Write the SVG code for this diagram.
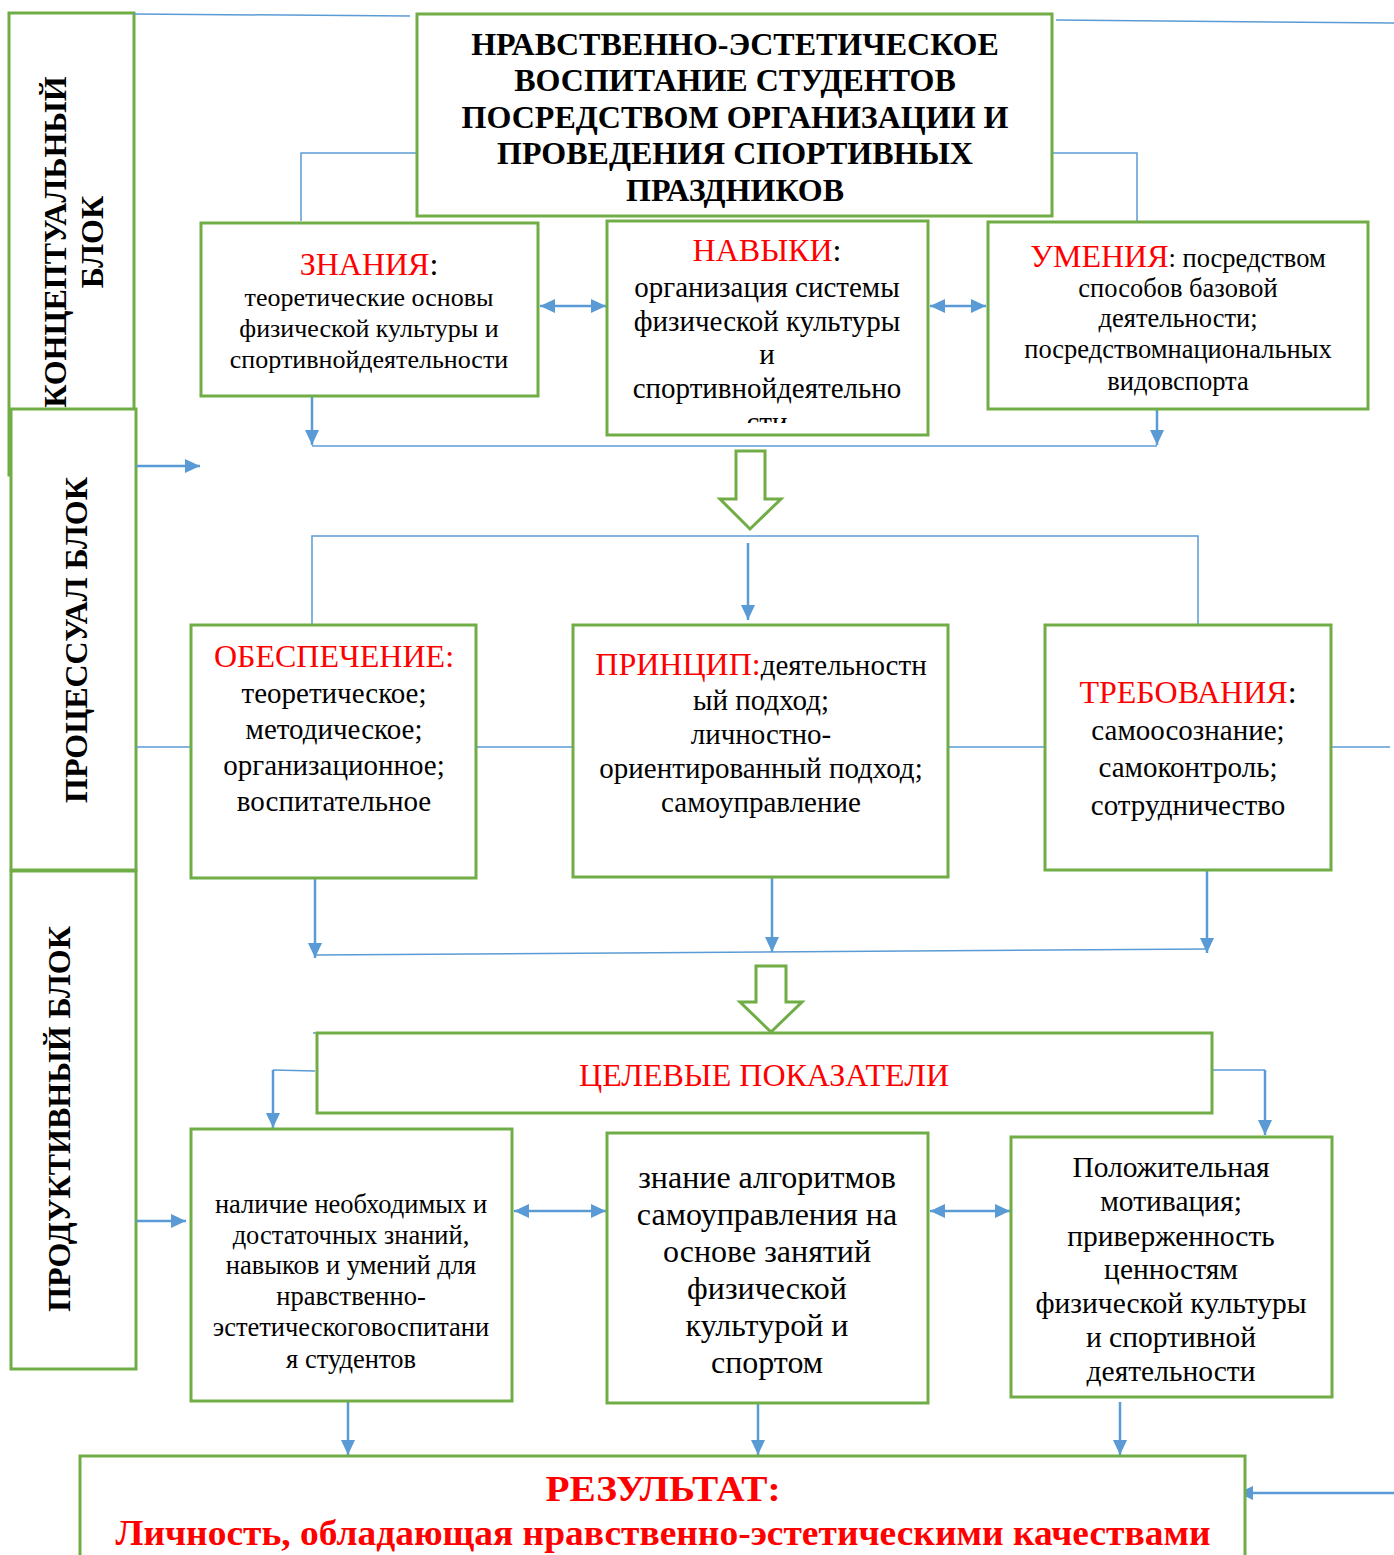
<svg xmlns="http://www.w3.org/2000/svg" width="1394" height="1555" viewBox="0 0 1394 1555">
<style>
.box{fill:#fff;stroke:#70AD47;stroke-width:3}
.hollow{fill:#fff;stroke:#70AD47;stroke-width:3}
.ln{fill:none;stroke:#5B9BD5;stroke-width:1.5}
.ar{fill:none;stroke:#5B9BD5;stroke-width:2.5}
text{font-family:"Liberation Serif","Times New Roman",serif;fill:#000;text-anchor:middle}
.b{font-weight:bold}
.r{fill:#FF0000}
.vt{font-weight:bold;font-size:32px}
</style>
<defs>
<marker id="ah" markerUnits="userSpaceOnUse" markerWidth="16" markerHeight="14" refX="15" refY="7" orient="auto-start-reverse">
<path d="M0,0 L15,7 L0,14 z" fill="#5B9BD5"/>
</marker>
<clipPath id="clipNav"><rect x="607" y="221" width="321" height="202"/></clipPath>
</defs>

<g id="block-concept">
<rect class="box" x="9" y="13" width="125" height="462"/>
<text class="vt" transform="translate(66,242) rotate(-90)">КОНЦЕПТУАЛЬНЫЙ</text>
<text class="vt" transform="translate(103,242) rotate(-90)">БЛОК</text>
</g>
<g id="block-process">
<rect class="box" x="11" y="409" width="125" height="461"/>
<text class="vt" transform="translate(87,640) rotate(-90)">ПРОЦЕССУАЛ БЛОК</text>
</g>
<g id="block-product">
<rect class="box" x="11" y="871" width="125" height="498"/>
<text class="vt" transform="translate(70,1119) rotate(-90)">ПРОДУКТИВНЫЙ БЛОК</text>
</g>

<g id="connectors">
<path class="ln" d="M134,14 L410,16"/>
<path class="ln" d="M1056,20 L1394,23"/>
<path class="ln" d="M417,153 L301,153 L301,221"/>
<path class="ln" d="M1052,153 L1137,153 L1137,222"/>
<path class="ar" d="M540,306 L606,306" marker-start="url(#ah)" marker-end="url(#ah)"/>
<path class="ar" d="M930,306 L986,306" marker-start="url(#ah)" marker-end="url(#ah)"/>
<path class="ar" d="M312,397 L312,445" marker-end="url(#ah)"/>
<path class="ar" d="M1157,410 L1157,445" marker-end="url(#ah)"/>
<path class="ln" d="M312,446 L1157,446"/>
<path class="ar" d="M136,466 L200,466" marker-end="url(#ah)"/>
<path class="ln" d="M312,625 L312,536 L1198,536 L1198,625"/>
<path class="ar" d="M748,543 L748,620" marker-end="url(#ah)"/>
<path class="ln" d="M136,747 L191,747 M476,747 L573,747 M948,747 L1045,747 M1331,747 L1390,747"/>
<path class="ar" d="M315,879 L315,958" marker-end="url(#ah)"/>
<path class="ar" d="M772,878 L772,952" marker-end="url(#ah)"/>
<path class="ar" d="M1207,871 L1207,953" marker-end="url(#ah)"/>
<path class="ln" d="M315,955 L1207,949"/>
<path class="ln" d="M313,1033 L317,1033"/>
<path class="ln" d="M315,1071 L273,1070"/>
<path class="ar" d="M273,1070 L273,1128" marker-end="url(#ah)"/>
<path class="ln" d="M1212,1070 L1265,1070"/>
<path class="ar" d="M1265,1070 L1265,1135" marker-end="url(#ah)"/>
<path class="ar" d="M514,1211 L606,1211" marker-start="url(#ah)" marker-end="url(#ah)"/>
<path class="ar" d="M930,1211 L1010,1211" marker-start="url(#ah)" marker-end="url(#ah)"/>
<path class="ar" d="M136,1221 L186,1221" marker-end="url(#ah)"/>
<path class="ar" d="M348,1402 L348,1455" marker-end="url(#ah)"/>
<path class="ar" d="M758,1400 L758,1455" marker-end="url(#ah)"/>
<path class="ar" d="M1120,1402 L1120,1455" marker-end="url(#ah)"/>
<path class="ar" d="M1394,1493 L1238,1493" marker-end="url(#ah)"/>
<path class="hollow" d="M736,451 L765,451 L765,499 L781,499 L750,529 L720,499 L736,499 z"/>
<path class="hollow" d="M756,966 L786,966 L786,1002 L802,1002 L771,1032 L740,1002 L756,1002 z"/>
</g>

<g id="title">
<rect class="box" x="417" y="14" width="635" height="202"/>
<text class="b" font-size="32" x="735" y="55">НРАВСТВЕННО-ЭСТЕТИЧЕСКОЕ</text>
<text class="b" font-size="32" x="735" y="91">ВОСПИТАНИЕ СТУДЕНТОВ</text>
<text class="b" font-size="32" x="735" y="128">ПОСРЕДСТВОМ ОРГАНИЗАЦИИ И</text>
<text class="b" font-size="32" x="735" y="164">ПРОВЕДЕНИЯ СПОРТИВНЫХ</text>
<text class="b" font-size="32" x="735" y="201">ПРАЗДНИКОВ</text>
</g>

<g id="znaniya">
<rect class="box" x="201" y="223" width="337" height="173"/>
<text font-size="32" x="369" y="275"><tspan class="r">ЗНАНИЯ</tspan>:</text>
<text font-size="26" x="369" y="306">теоретические основы</text>
<text font-size="26" x="369" y="337">физической культуры и</text>
<text font-size="26" x="369" y="368">спортивнойдеятельности</text>
</g>

<g id="navyki">
<rect class="box" x="607" y="221" width="321" height="214"/>
<g clip-path="url(#clipNav)">
<text font-size="32" x="767" y="261"><tspan class="r">НАВЫКИ</tspan>:</text>
<text font-size="29" x="767" y="297">организация системы</text>
<text font-size="29" x="767" y="331">физической культуры</text>
<text font-size="29" x="767" y="364">и</text>
<text font-size="29" x="767" y="398">спортивнойдеятельно</text>
<text font-size="29" x="767" y="432">сти</text>
</g>
</g>

<g id="umeniya">
<rect class="box" x="988" y="222" width="380" height="187"/>
<text x="1178" y="267"><tspan class="r" font-size="32">УМЕНИЯ</tspan><tspan font-size="26.5">: посредством</tspan></text>
<text font-size="26.5" x="1178" y="297">способов базовой</text>
<text font-size="26.5" x="1178" y="327">деятельности;</text>
<text font-size="26.5" x="1178" y="358">посредствомнациональных</text>
<text font-size="26.5" x="1178" y="390">видовспорта</text>
</g>

<g id="obespechenie">
<rect class="box" x="191" y="625" width="285" height="253"/>
<text class="r" font-size="32" x="334" y="667">ОБЕСПЕЧЕНИЕ:</text>
<text font-size="29" x="334" y="703">теоретическое;</text>
<text font-size="29" x="334" y="739">методическое;</text>
<text font-size="29" x="334" y="775">организационное;</text>
<text font-size="29" x="334" y="811">воспитательное</text>
</g>

<g id="princip">
<rect class="box" x="573" y="625" width="375" height="252"/>
<text x="761" y="675"><tspan class="r" font-size="32">ПРИНЦИП:</tspan><tspan font-size="29">деятельностн</tspan></text>
<text font-size="29" x="761" y="710">ый подход;</text>
<text font-size="29" x="761" y="744">личностно-</text>
<text font-size="29" x="761" y="778">ориентированный подход;</text>
<text font-size="29" x="761" y="812">самоуправление</text>
</g>

<g id="trebovaniya">
<rect class="box" x="1045" y="625" width="286" height="245"/>
<text font-size="32" x="1188" y="703"><tspan class="r">ТРЕБОВАНИЯ</tspan>:</text>
<text font-size="29" x="1188" y="740">самоосознание;</text>
<text font-size="29" x="1188" y="777">самоконтроль;</text>
<text font-size="29" x="1188" y="815">сотрудничество</text>
</g>

<g id="celevye">
<rect class="box" x="317" y="1033" width="895" height="80"/>
<text class="r" font-size="32" x="764" y="1086">ЦЕЛЕВЫЕ ПОКАЗАТЕЛИ</text>
</g>

<g id="nalichie">
<rect class="box" x="191" y="1129" width="321" height="272"/>
<text font-size="26.5" x="351" y="1213">наличие необходимых и</text>
<text font-size="26.5" x="351" y="1244">достаточных знаний,</text>
<text font-size="26.5" x="351" y="1274">навыков и умений для</text>
<text font-size="26.5" x="351" y="1305">нравственно-</text>
<text font-size="26.5" x="351" y="1336">эстетическоговоспитани</text>
<text font-size="26.5" x="351" y="1368">я студентов</text>
</g>

<g id="znanie-algoritmov">
<rect class="box" x="607" y="1133" width="321" height="270"/>
<text font-size="32" x="767" y="1188">знание алгоритмов</text>
<text font-size="32" x="767" y="1225">самоуправления на</text>
<text font-size="32" x="767" y="1262">основе занятий</text>
<text font-size="32" x="767" y="1299">физической</text>
<text font-size="32" x="767" y="1336">культурой и</text>
<text font-size="32" x="767" y="1373">спортом</text>
</g>

<g id="motivaciya">
<rect class="box" x="1011" y="1137" width="321" height="260"/>
<text font-size="29.5" x="1171" y="1177">Положительная</text>
<text font-size="29.5" x="1171" y="1211">мотивация;</text>
<text font-size="29.5" x="1171" y="1246">приверженность</text>
<text font-size="29.5" x="1171" y="1279">ценностям</text>
<text font-size="29.5" x="1171" y="1313">физической культуры</text>
<text font-size="29.5" x="1171" y="1347">и спортивной</text>
<text font-size="29.5" x="1171" y="1381">деятельности</text>
</g>

<g id="rezultat">
<rect class="box" x="80" y="1456" width="1165" height="120"/>
<text class="b r" font-size="35" x="663" y="1501" textLength="235" lengthAdjust="spacingAndGlyphs">РЕЗУЛЬТАТ:</text>
<text class="b r" font-size="35" x="663" y="1545" textLength="1095" lengthAdjust="spacingAndGlyphs">Личность, обладающая нравственно-эстетическими качествами</text>
</g>
</svg>
